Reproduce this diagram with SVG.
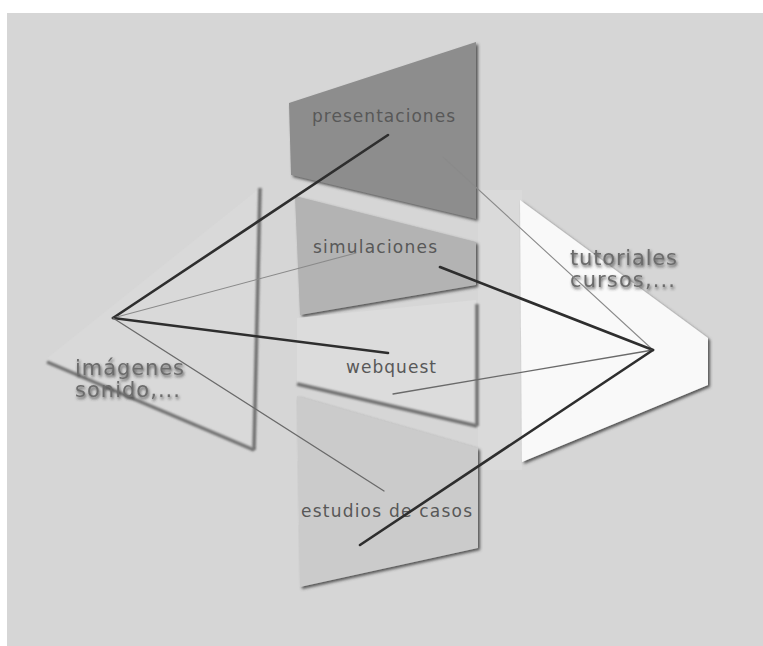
<svg xmlns="http://www.w3.org/2000/svg" width="763" height="646" viewBox="0 0 763 646">
<defs>
<filter id="sh" x="-10%" y="-10%" width="130%" height="130%">
<feDropShadow dx="2" dy="2" stdDeviation="1.5" flood-color="#444" flood-opacity="0.9"/>
</filter>
<filter id="tsh" x="-10%" y="-30%" width="130%" height="170%">
<feDropShadow dx="1" dy="2" stdDeviation="1.5" flood-color="#333" flood-opacity="0.8"/>
</filter>
<filter id="bl" filterUnits="userSpaceOnUse" x="0" y="0" width="763" height="646">
<feGaussianBlur stdDeviation="0.8"/>
</filter>
</defs>
<style>
.lbl{font-family:"DejaVu Sans","Liberation Sans",sans-serif;font-size:17px;fill:#585858}
.big{font-family:"DejaVu Sans","Liberation Sans",sans-serif;font-size:21px;fill:#6c6c6c}
.thick{stroke:#2e2e2e;stroke-width:2.6;fill:none;stroke-linecap:round}
.thin{stroke:#6a6a6a;stroke-width:1.3;fill:none;stroke-linecap:round}
.faint{stroke:#8a8a8a;stroke-width:1.1;fill:none;stroke-linecap:round}
.edge{stroke:#6e6e6e;stroke-width:3.5;fill:none;filter:url(#bl)}
</style>
<rect x="0" y="0" width="763" height="646" fill="#ffffff"/>
<rect x="7" y="13" width="756" height="633" fill="#d6d6d6"/>
<rect x="478" y="190" width="44" height="280" fill="#dadada"/>

<g id="imagenes">
<polygon points="260,188 45,360 253,450" fill="#d9d9d9"/>
<line class="edge" x1="260" y1="188" x2="254" y2="450"/>
<line class="edge" x1="47" y1="362" x2="254" y2="450"/>
<text class="big" x="75" y="375" textLength="109" filter="url(#tsh)">imágenes</text>
<text class="big" x="75" y="397" textLength="105" filter="url(#tsh)">sonido,...</text>
</g>

<g id="tutoriales">
<polygon points="520,200 708,338 708,385 522,462" fill="#f9f9f9" filter="url(#sh)"/>
<text class="big" x="570" y="265" textLength="107" filter="url(#tsh)">tutoriales</text>
<text class="big" x="570" y="287" textLength="105" filter="url(#tsh)">cursos,...</text>
</g>

<g id="presentaciones">
<polygon points="289,103 476,42 476,219 291,175" fill="#8d8d8d" filter="url(#sh)"/>
<text class="lbl" x="312" y="122" textLength="143">presentaciones</text>
</g>

<g id="simulaciones">
<polygon points="295,196 476,242 476,285 300,315" fill="#b3b3b3" filter="url(#sh)"/>
<text class="lbl" x="313" y="253" textLength="124">simulaciones</text>
</g>

<g id="webquest">
<polygon points="297,318 476,300 476,426 297,384" fill="#dcdcdc"/>
<line class="edge" x1="477" y1="304" x2="477" y2="426"/>
<line class="edge" x1="297" y1="384" x2="477" y2="426"/>
<text class="lbl" x="346" y="373" textLength="90">webquest</text>
</g>

<g id="estudios">
<polygon points="297,396 478,448 478,548 300,587" fill="#cbcbcb" filter="url(#sh)"/>
<text class="lbl" x="301" y="517" textLength="171">estudios de casos</text>
</g>

<g id="connectors">
<line class="thick" x1="113" y1="318" x2="388" y2="135"/>
<line class="faint" x1="113" y1="318" x2="356" y2="253"/>
<line class="thick" x1="113" y1="318" x2="388" y2="353"/>
<line class="thin" x1="113" y1="318" x2="384" y2="491"/>
<line class="faint" x1="443" y1="157" x2="653" y2="350"/>
<line class="thick" x1="440" y1="267" x2="653" y2="350"/>
<line class="thin" x1="393" y1="394" x2="653" y2="350"/>
<line class="thick" x1="360" y1="545" x2="653" y2="350"/>
</g>
</svg>
